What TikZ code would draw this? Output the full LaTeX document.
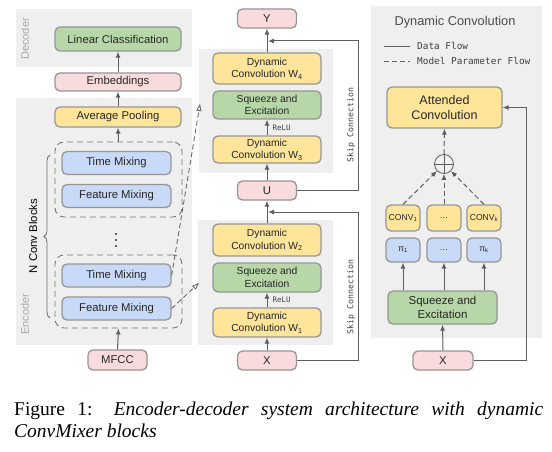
\documentclass[tikz,border=0pt]{standalone}
\usepackage{fontspec}
\setmainfont{Liberation Sans}
\setmonofont{DejaVu Sans Mono}
\newfontfamily\capfont{Liberation Serif}
\usetikzlibrary{positioning, shapes, calc, arrows.meta, decorations.pathreplacing}

\definecolor{panelgray}{RGB}{239,239,239}
\definecolor{boxline}{RGB}{150,150,150}
\definecolor{arrowgray}{RGB}{95,95,95}
\definecolor{sgreen}{RGB}{183,215,168}
\definecolor{spink}{RGB}{250,219,221}
\definecolor{syellow}{RGB}{255,229,153}
\definecolor{sblue}{RGB}{201,218,248}
\definecolor{labelgray}{RGB}{170,170,170}

\tikzset{
  block/.style={draw=boxline, line width=1.3pt, rounded corners=5pt, inner sep=0pt, align=center, text=black!85, font=\fontsize{11.3}{13}\selectfont},
  greenblock/.style={block, fill=sgreen},
  pinkblock/.style={block, fill=spink},
  yellowblock/.style={block, fill=syellow},
  blueblock/.style={block, fill=sblue},
  dynconv/.style={yellowblock, minimum width=108pt, font=\fontsize{10.3}{12.5}\selectfont},
  seblock/.style={greenblock, minimum width=108pt, font=\fontsize{10.3}{12.5}\selectfont},
  iobox/.style={pinkblock, minimum width=59pt, minimum height=19pt},
  mixbox/.style={blueblock, minimum width=109pt, minimum height=23pt},
  smallbox/.style={block, minimum width=34pt, font=\fontsize{8.6}{10}\selectfont},
  groupbox/.style={draw=arrowgray!85, line width=0.9pt, dash pattern=on 6pt off 4pt, rounded corners=9pt, inner sep=0pt},
  panel/.style={fill=panelgray},
  flow/.style={draw=arrowgray, line width=1pt, -{Latex[length=6pt,width=5pt]}},
  paramflow/.style={flow, dash pattern=on 5pt off 3pt},
  hintflow/.style={draw=arrowgray, line width=0.8pt, dash pattern=on 5pt off 3pt, -{Triangle[open,length=7pt,width=5pt]}},
  sidelbl/.style={text=labelgray, rotate=90, font=\fontsize{11}{13}\selectfont},
  monolbl/.style={font=\ttfamily\fontsize{8.2}{10}\selectfont, text=black!75},
  relulbl/.style={font=\ttfamily\fontsize{7.5}{9}\selectfont, text=black!75, anchor=west, inner sep=0pt, xshift=5pt},
}

\begin{document}
\begin{tikzpicture}[x=1pt, y=-1pt]
\useasboundingbox (0,0) rectangle (552,452);
\fill[white] (0,0) rectangle (552,452);

\fill[panel] (16,9) rectangle (192,67);
\fill[panel] (16,98) rectangle (192,345);
\fill[panel] (199,49) rectangle (333,173);
\fill[panel] (198,220) rectangle (333,345);
\fill[panel] (371,6) rectangle (542,338);

\node[sidelbl] (declbl) at (25,39) {Decoder};
\node[sidelbl] (enclbl) at (25,314) {Encoder};

\node[greenblock, minimum width=126pt, minimum height=24pt] (lin) at (118,39) {Linear Classification};
\node[pinkblock, minimum width=126pt, minimum height=18pt] (emb) at (118,82) {Embeddings};
\node[yellowblock, minimum width=126pt, minimum height=20pt] (avg) at (118,117) {Average Pooling};

\node[groupbox, minimum width=127pt, minimum height=75pt] (blk1) at (118.5,179.5) {};
\node[mixbox] (time1) at (116.5,163) {Time Mixing};
\node[mixbox] (feat1) at (116.5,196) {Feature Mixing};
\foreach \d in {234, 240, 246}
  \fill[black!80] (116,\d) circle (1.1pt);
\node[groupbox, minimum width=127pt, minimum height=73pt] (blk2) at (118.5,291.5) {};
\node[mixbox] (time2) at (116.5,275.5) {Time Mixing};
\node[mixbox] (feat2) at (116.5,308.5) {Feature Mixing};
\node[pinkblock, minimum width=59pt, minimum height=20pt] (mfcc) at (117.5,360) {MFCC};

\coordinate (brb) at (50,318);
\coordinate (brt) at (50,155);
\draw[arrowgray!90, line width=0.8pt, decorate, decoration={brace, amplitude=6pt}] (brb) -- (brt);
\node[rotate=90, font=\fontsize{11.3}{13}\selectfont] (nconv) at (33,236) {N Conv Blocks};

\draw[flow] (emb.north) -- (lin.south);
\draw[flow] (avg.north) -- (emb.south);
\draw[flow] (blk1.north) -- (avg.south);
\draw[flow] (mfcc.north) -- (blk2.south);

\node[iobox] (y) at (267,18.5) {Y};
\node[dynconv, minimum height=31pt] (dc4) at (267,68.5) {Dynamic\\Convolution W\textsubscript{4}};
\node[seblock, minimum height=28pt] (se2) at (267,105) {Squeeze and\\Excitation};
\node[dynconv, minimum height=27pt] (dc3) at (267,149.5) {Dynamic\\Convolution W\textsubscript{3}};
\node[iobox] (u) at (267,190.5) {U};
\node[dynconv, minimum height=32pt] (dc2) at (267,240) {Dynamic\\Convolution W\textsubscript{2}};
\node[seblock, minimum height=29pt] (se1) at (267,277.5) {Squeeze and\\Excitation};
\node[dynconv, minimum height=29pt] (dc1) at (267,322.5) {Dynamic\\Convolution W\textsubscript{1}};
\node[iobox] (x) at (267,360.5) {X};

\draw[flow] (dc4.north) -- (y.south);
\draw[flow] (dc3.north) -- node[relulbl] {ReLU} (se2.south);
\draw[flow] (u.north) -- (dc3.south);
\draw[flow] (dc2.north) -- (u.south);
\draw[flow] (dc1.north) -- node[relulbl] {ReLU} (se1.south);
\draw[flow] (x.north) -- (dc1.south);

\coordinate (sk2) at (358,41);
\coordinate (j2) at (268,41);
\coordinate (sk1) at (358,212);
\coordinate (j1) at (268,212);
\draw[flow] (u.east) -| (sk2) -- (j2);
\draw[flow] (x.east) -| (sk1) -- (j1);
\node[monolbl, rotate=90] (skip2) at (351,125) {Skip Connection};
\node[monolbl, rotate=90] (skip1) at (351,297) {Skip Connection};

\coordinate (ptop) at (200,104);
\coordinate (pbot) at (199,283);
\draw[hintflow] (time2.east) -- (ptop);
\draw[hintflow] (feat2.east) -- (pbot);

\node[text=black!70, font=\fontsize{12.8}{15}\selectfont] (dyntitle) at (455,22) {Dynamic Convolution};
\coordinate (lga) at (384,46);
\coordinate (lgb) at (410,46);
\coordinate (lgc) at (384,61);
\coordinate (lgd) at (410,61);
\draw[arrowgray, line width=0.9pt] (lga) -- (lgb);
\draw[arrowgray, line width=0.9pt, dash pattern=on 5pt off 3pt] (lgc) -- (lgd);
\node[monolbl, font=\ttfamily\fontsize{9.4}{11}\selectfont, anchor=west, inner sep=0pt] (lgdata) at (417,46) {Data Flow};
\node[monolbl, font=\ttfamily\fontsize{9.4}{11}\selectfont, anchor=west, inner sep=0pt] (lgparam) at (417,61) {Model Parameter Flow};

\node[yellowblock, minimum width=115pt, minimum height=41pt, font=\fontsize{12.5}{15}\selectfont] (att) at (444.5,107.5) {Attended\\Convolution};
\node[circle, draw=arrowgray, line width=0.8pt, minimum size=19pt, inner sep=0pt] (sum) at (444,164) {};
\draw[arrowgray, line width=0.8pt] (sum.north) -- (sum.south) (sum.west) -- (sum.east);

\node[smallbox, fill=syellow, minimum height=26pt] (conv1) at (403,218) {CONV\textsubscript{1}};
\node[smallbox, fill=syellow, minimum height=26pt] (convd) at (444,218) {…};
\node[smallbox, fill=syellow, minimum height=26pt] (convk) at (484,218) {CONV\textsubscript{k}};
\node[smallbox, fill=sblue, minimum height=24pt] (pi1) at (403,250) {π\textsubscript{1}};
\node[smallbox, fill=sblue, minimum height=24pt] (pid) at (444,250) {…};
\node[smallbox, fill=sblue, minimum height=24pt] (pik) at (484,250) {π\textsubscript{k}};
\node[greenblock, minimum width=109pt, minimum height=33pt, font=\fontsize{11.5}{14}\selectfont] (se3) at (442.5,307.5) {Squeeze and\\Excitation};
\node[iobox, minimum width=60pt] (x3) at (443,360.5) {X};

\draw[flow] (x3.north) -- (se3.south);
\foreach \b in {pi1, pid, pik}
  \draw[flow] (\b.south |- se3.north) -- (\b.south);
\foreach \c in {conv1, convd, convk}
  \draw[paramflow] (\c.north) -- (sum);
\draw[paramflow] (sum.north) -- (att.south);
\coordinate (skr) at (526,107.5);
\draw[flow] (x3.east) -| (skr) -- (att.east);

\node[anchor=north west, inner sep=0pt, text width=529pt, align=justify, font=\capfont\fontsize{19.5}{22}\selectfont] (cap) at (14,402) {\hyphenpenalty=10000 Figure 1: \textit{Encoder-decoder system architecture with dynamic \mbox{ConvMixer} blocks}};
\end{tikzpicture}
\end{document}
